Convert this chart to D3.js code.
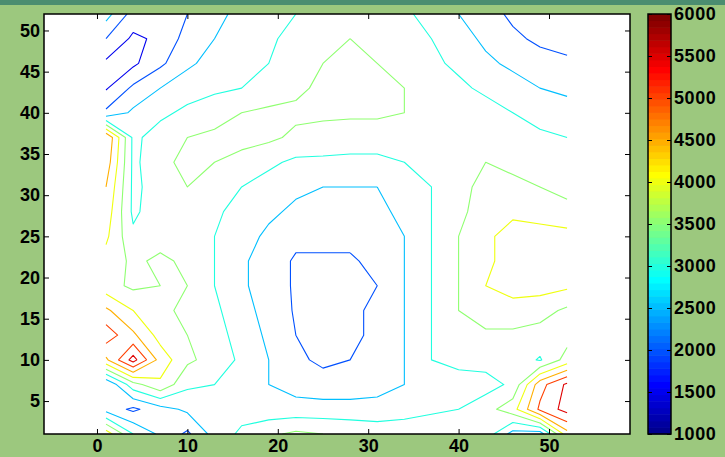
<!DOCTYPE html>
<html>
<head>
<meta charset="utf-8">
<script src="https://cdn.jsdelivr.net/npm/d3@7"></script>
<style>
  body { margin: 0; background: #9cc87e; }
  svg { display: block; }
  text { font-family: "Liberation Sans", Arial, sans-serif; font-weight: bold; fill: #000; }
</style>
</head>
<body>
<script>
// Grid positions (x and y of the sampled surface)
const gridX = [1, 4, 7, 10, 13, 16, 19, 22, 25, 28, 31, 34, 37, 40, 43, 46, 49, 52];
const gridY = [1, 4, 7, 10, 13, 16, 19, 22, 25, 28, 31, 34, 37, 40, 43, 46, 49, 52];

// Surface values, one row per gridY (bottom to top)
const zRows = [
  [4300, 3000, 2400, 1900, 2700, 3100, 3400, 3600, 3500, 3400, 3300, 3300, 3400, 3500, 3300, 2300, 2200, 4300],
  [2300, 1900, 2300, 2600, 2900, 2800, 2700, 2700, 2700, 2700, 2700, 2800, 2900, 3000, 3300, 3800, 5100, 5700],
  [2000, 3300, 3900, 3100, 3000, 2800, 2500, 2300, 2200, 2200, 2300, 2500, 2700, 2700, 2800, 3100, 4800, 5600],
  [4400, 5700, 4300, 3600, 3300, 2900, 2500, 2100, 1900, 2000, 2200, 2500, 3000, 3200, 3200, 3300, 2950, 3700],
  [5300, 4600, 3800, 3500, 3200, 2800, 2400, 2000, 1900, 1900, 2100, 2500, 3000, 3400, 3400, 3400, 3300, 3300],
  [4600, 4000, 3600, 3400, 3100, 2700, 2300, 1950, 1900, 1900, 2100, 2500, 3000, 3500, 3800, 3800, 3700, 3400],
  [3700, 3400, 3500, 3500, 3000, 2600, 2200, 1950, 1900, 1900, 2000, 2500, 3000, 3500, 4000, 4200, 4200, 4100],
  [3800, 3400, 3600, 3400, 3000, 2600, 2200, 1950, 1950, 1950, 2100, 2500, 3000, 3500, 3900, 4200, 4300, 4200],
  [4100, 3100, 3300, 3300, 3000, 2700, 2400, 2100, 2100, 2100, 2200, 2500, 3000, 3500, 3900, 4200, 4200, 4200],
  [4300, 2900, 3300, 3300, 3100, 2800, 2600, 2400, 2300, 2300, 2400, 2600, 3000, 3400, 3700, 3900, 3800, 3600],
  [4500, 2900, 3200, 3500, 3200, 3000, 2800, 2600, 2500, 2500, 2500, 2700, 3000, 3400, 3600, 3600, 3500, 3400],
  [4800, 2900, 3300, 3700, 3500, 3300, 3100, 2900, 2900, 2900, 2900, 3000, 3100, 3400, 3500, 3400, 3300, 3200],
  [5000, 2900, 3200, 3500, 3600, 3700, 3600, 3400, 3300, 3200, 3200, 3300, 3300, 3400, 3400, 3200, 3100, 3000],
  [2100, 2600, 2900, 3100, 3300, 3500, 3600, 3600, 3600, 3600, 3600, 3500, 3400, 3300, 3200, 3000, 2800, 2700],
  [1450, 2100, 2500, 2800, 2900, 3000, 3200, 3400, 3600, 3600, 3600, 3500, 3300, 3100, 2900, 2700, 2500, 2400],
  [1400, 1400, 1900, 2400, 2700, 2800, 3000, 3300, 3500, 3600, 3500, 3300, 3100, 2900, 2600, 2400, 2200, 2100],
  [2000, 1400, 1600, 2200, 2500, 2700, 2900, 3200, 3400, 3500, 3400, 3200, 3000, 2700, 2400, 2100, 1900, 1800],
  [2700, 1800, 1500, 2000, 2400, 2600, 2800, 3000, 3200, 3400, 3300, 3100, 2800, 2500, 2200, 1900, 1700, 1700]
];

const levels = [1500, 2000, 2500, 3000, 3500, 4000, 4500, 5000, 5500];
const xTicks = [0, 10, 20, 30, 40, 50];
const yTicks = [5, 10, 15, 20, 25, 30, 35, 40, 45, 50];
const cTicks = [1000, 1500, 2000, 2500, 3000, 3500, 4000, 4500, 5000, 5500, 6000];
const cLim = [1000, 6000];

const width = 725, height = 457;
const plot = { left: 44, top: 14, right: 630, bottom: 434 };
const bar = { left: 648, right: 671 };

// MATLAB style jet colormap
function jet(m) {
    const n = Math.ceil(m / 4);
    const u = [];
    for (let i = 1; i <= n; i++) u.push(i / n);
    for (let i = 1; i < n; i++) u.push(1);
    for (let i = n; i >= 1; i--) u.push(i / n);
    const off = Math.ceil(n / 2) - (m % 4 === 1 ? 1 : 0);
    const J = d3.range(m).map(() => [0, 0, 0]);
    u.forEach((v, k) => {
        const g = off + k + 1, r = g + n, b = g - n;
        if (r >= 1 && r <= m) J[r - 1][0] = v;
        if (g >= 1 && g <= m) J[g - 1][1] = v;
        if (b >= 1 && b <= m) J[b - 1][2] = v;
    });
    return J.map(c => d3.rgb(c[0] * 255, c[1] * 255, c[2] * 255).formatHex());
}
const cmap = jet(64);
const colorOf = v => cmap[Math.max(0, Math.min(63, Math.floor((v - cLim[0]) / (cLim[1] - cLim[0]) * 64)))];

const svg = d3.select("body").append("svg")
    .attr("width", width)
    .attr("height", height);

// window strip at the very top
svg.append("rect").attr("width", width).attr("height", 5).attr("fill", "#4b8d70");

const x = d3.scaleLinear().domain([-5.86, 58.96]).range([plot.left, plot.right]);
const y = d3.scaleLinear().domain([1, 52]).range([plot.bottom, plot.top]);

svg.append("rect")
    .attr("x", plot.left).attr("y", plot.top)
    .attr("width", plot.right - plot.left).attr("height", plot.bottom - plot.top)
    .attr("fill", "#fff");

svg.append("clipPath").attr("id", "clip")
    .append("rect")
    .attr("x", plot.left).attr("y", plot.top)
    .attr("width", plot.right - plot.left).attr("height", plot.bottom - plot.top);

// contour lines
const nx = gridX.length, ny = gridY.length;
const gx = d3.scaleLinear().domain([0.5, nx - 0.5]).range([gridX[0], gridX[nx - 1]]);
const gy = d3.scaleLinear().domain([0.5, ny - 0.5]).range([gridY[0], gridY[ny - 1]]);

const contours = d3.contours().size([nx, ny]).thresholds(levels)(zRows.flat());

// drop the parts of each ring that run along the outer frame
function openLines(ring) {
    const ok = p => p[0] >= 0.5 && p[0] <= nx - 0.5 && p[1] >= 0.5 && p[1] <= ny - 0.5;
    const pts = ring.slice(0, -1);
    const start = pts.findIndex(p => !ok(p));
    if (start < 0) return [ring];
    const rot = pts.slice(start).concat(pts.slice(0, start));
    const out = [];
    let cur = [];
    rot.forEach(p => {
        if (ok(p)) cur.push(p);
        else { if (cur.length > 1) out.push(cur); cur = []; }
    });
    if (cur.length > 1) out.push(cur);
    return out;
}

const line = d3.line().x(p => x(gx(p[0]))).y(p => y(gy(p[1])));

const cg = svg.append("g").attr("clip-path", "url(#clip)");
contours.forEach(c => {
    const col = colorOf(c.value);
    c.coordinates.forEach(poly => poly.forEach(ring => {
        openLines(ring).forEach(seg => {
            cg.append("path")
                .attr("d", line(seg))
                .attr("fill", "none")
                .attr("stroke", col)
                .attr("stroke-width", 1.1)
                .attr("stroke-linejoin", "round");
        });
    }));
});

// axes (ticks pointing inwards on all four sides)
const fontSize = "18px";
const gxAxis = svg.append("g")
    .attr("transform", `translate(0,${plot.bottom})`)
    .call(d3.axisBottom(x).tickValues(xTicks).tickSize(-5).tickPadding(5));
const gxTop = svg.append("g")
    .attr("transform", `translate(0,${plot.top})`)
    .call(d3.axisTop(x).tickValues(xTicks).tickSize(-5).tickFormat(""));
const gyAxis = svg.append("g")
    .attr("transform", `translate(${plot.left},0)`)
    .call(d3.axisLeft(y).tickValues(yTicks).tickSize(-5).tickPadding(4));
const gyRight = svg.append("g")
    .attr("transform", `translate(${plot.right},0)`)
    .call(d3.axisRight(y).tickValues(yTicks).tickSize(-5).tickFormat(""));

[gxAxis, gxTop, gyAxis, gyRight].forEach(g => {
    g.select(".domain").remove();
    g.selectAll("line").attr("stroke", "#000");
    g.selectAll("text").style("font-size", fontSize).style("font-family", null).attr("fill", "#000");
});

svg.append("rect")
    .attr("x", plot.left).attr("y", plot.top)
    .attr("width", plot.right - plot.left).attr("height", plot.bottom - plot.top)
    .attr("fill", "none").attr("stroke", "#000").attr("stroke-width", 1.5);

// colorbar
const cy = d3.scaleLinear().domain(cLim).range([plot.bottom, plot.top]);
const step = (cLim[1] - cLim[0]) / cmap.length;
svg.append("g").selectAll("rect")
    .data(cmap)
    .join("rect")
    .attr("x", bar.left)
    .attr("width", bar.right - bar.left)
    .attr("y", (d, i) => cy(cLim[0] + (i + 1) * step))
    .attr("height", (d, i) => cy(cLim[0] + i * step) - cy(cLim[0] + (i + 1) * step) + 0.5)
    .attr("fill", d => d);

const cbRight = svg.append("g")
    .attr("transform", `translate(${bar.right},0)`)
    .call(d3.axisRight(cy).tickValues(cTicks).tickSize(-4).tickPadding(3).tickFormat(d3.format("d")));
const cbLeft = svg.append("g")
    .attr("transform", `translate(${bar.left},0)`)
    .call(d3.axisLeft(cy).tickValues(cTicks).tickSize(-4).tickFormat(""));
[cbRight, cbLeft].forEach(g => {
    g.select(".domain").remove();
    g.selectAll("line").attr("stroke", "#000");
    g.selectAll("text").style("font-size", fontSize).style("font-family", null)
        .style("letter-spacing", "0.6px").attr("fill", "#000");
});

svg.append("rect")
    .attr("x", bar.left).attr("y", plot.top)
    .attr("width", bar.right - bar.left).attr("height", plot.bottom - plot.top)
    .attr("fill", "none").attr("stroke", "#000").attr("stroke-width", 1.5);
</script>
</body>
</html>
